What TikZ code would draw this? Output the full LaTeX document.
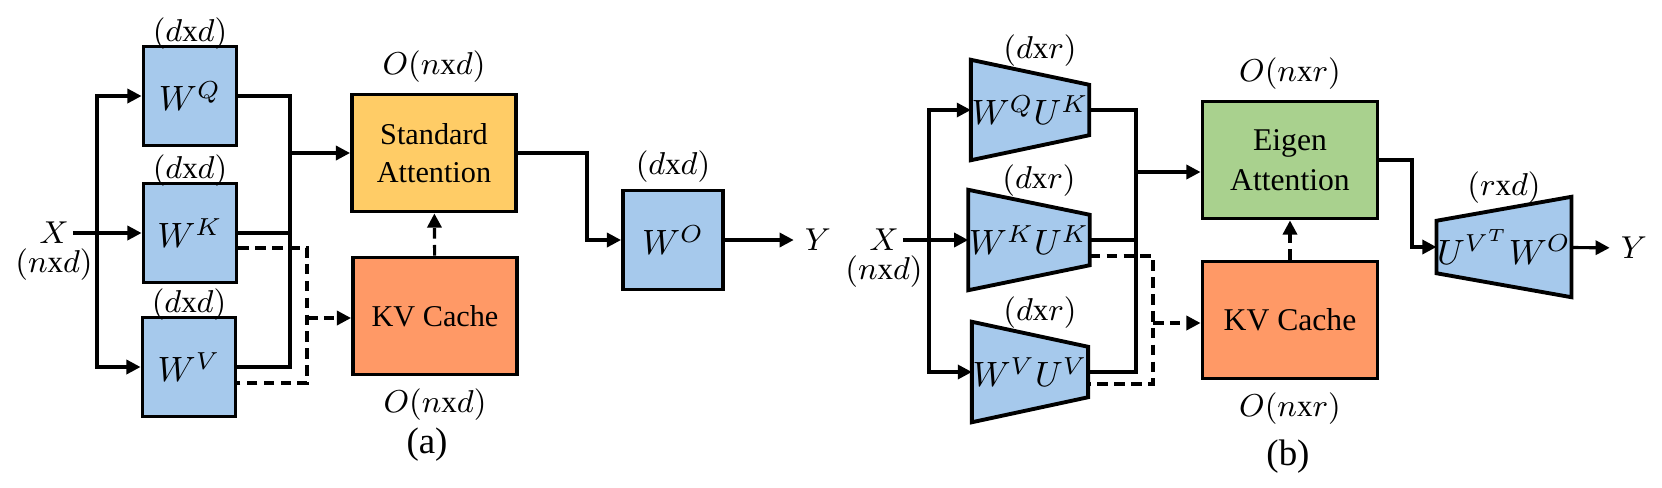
\documentclass[tikz,border=0pt]{standalone}
\usepackage{fontspec}
\setmainfont{Liberation Serif}
\usetikzlibrary{arrows.meta,positioning,calc,backgrounds}
\definecolor{wblue}{HTML}{A6C9EC}
\definecolor{attyellow}{HTML}{FFCC66}
\definecolor{cacheorange}{HTML}{FF9966}
\definecolor{eigengreen}{HTML}{A9D18E}
\tikzset{
  weight/.style   = { draw, line width=1.1pt, fill=wblue, minimum width=0.93cm, minimum height=0.99cm, inner sep=0pt, font=\fontsize{10}{12}\selectfont },
  lowrank/.style  = { minimum width=0.99cm, minimum height=0.99cm, inner sep=0pt, font=\fontsize{9.8}{11}\selectfont },
  block/.style    = { draw, line width=1.1pt, minimum width=1.64cm, minimum height=1.17cm, inner sep=0pt, align=center, font=\fontsize{8.6}{10.8}\selectfont },
  dim/.style      = { inner sep=1pt, font=\fontsize{8.8}{10}\selectfont },
  wire/.style     = { line width=0.9pt },
  arrow/.style    = { wire, -{Triangle[length=4pt,width=4pt]} },
  dashline/.style = { wire, dash pattern=on 3pt off 1.8pt },
  dasharrow/.style = { dashline, -{Triangle[length=4pt,width=4pt]} },
  trapfill/.style = { draw, line width=1.1pt, fill=wblue, line join=miter }
}

\begin{document}
\begin{tikzpicture}[x=0.01cm, y=-0.01cm]
\useasboundingbox (0,0) rectangle (1662,487);

% (a) standard attention
\node[weight] (wq) at (190,96) {$W^Q$};
\node[weight] (wk) at (190,233) {$W^K$};
\node[weight] (wv) at (189,367) {$W^V$};
\node[dim, above=-2.5pt of wq] (wqdim) {$(d\mathrm{x}d)$};
\node[dim, above=-2.5pt of wk] (wkdim) {$(d\mathrm{x}d)$};
\node[dim, above=-2.5pt of wv] (wvdim) {$(d\mathrm{x}d)$};

\node[dim] (xa) at (54,233) {$X$};
\node[dim, below=-1pt of xa] (xadim) {$(n\mathrm{x}d)$};
\coordinate (busa) at (97,233);
\draw[arrow] (xa) -- (wk);
\draw[arrow] (busa) |- (wq);
\draw[arrow] (busa) |- (wv);

\node[block, fill=attyellow] (sa) at (434,153) {Standard\\Attention};
\node[block, fill=cacheorange] (kva) at (435,316) {KV Cache};
\node[dim, above=0.06cm of sa] (sadim) {$O(n\mathrm{x}d)$};
\node[dim, below=0.08cm of kva] (kvadim) {$O(n\mathrm{x}d)$};

\coordinate (mergea) at (290,153);
\draw[wire] (wq) -| (mergea);
\draw[wire] (wv) -| (mergea);
\draw[wire] (wk) -- (wk -| mergea);
\draw[arrow] (mergea) -- (mergea -| sa.west);

\coordinate (splita) at (307,318);
\draw[dashline] ($(wk.east)+(0,15)$) -| (splita) |- ($(wv.east)+(0,16)$);
\draw[dasharrow] (splita) -- (splita -| kva.west);
\draw[dasharrow] (kva) -- (sa);

\node[weight, minimum width=1cm] (wo) at (673,240) {$W^O$};
\node[dim, above=0.02cm of wo] (wodim) {$(d\mathrm{x}d)$};
\coordinate (turna) at (587,200);
\draw[arrow] (sa.east) -| (turna) |- (wo);
\node[dim, inner sep=3pt] (ya) at (818,240) {$Y$};
\draw[arrow] (wo) -- (ya);

\node[font=\fontsize{10.5}{12}\selectfont] (capa) at (427,445) {(a)};

% (b) eigen attention
\node[lowrank] (wqu) at (1030,110) {$W^QU^K$};
\node[lowrank] (wku) at (1029,240) {$W^KU^K$};
\node[lowrank] (wvu) at (1030,372) {$W^VU^V$};
\node[lowrank, minimum width=1.11cm] (uvo) at (1504,247) {$U^{V^T}W^O$};
\begin{scope}[on background layer]
\foreach \n in {wqu,wku,wvu}
  \draw[trapfill] (\n.north west) -- ($(\n.north east)+(0,25)$) -- ($(\n.south east)+(0,-25)$) -- (\n.south west) -- cycle;
\draw[trapfill] ($(uvo.north west)+(0,24)$) -- (uvo.north east) -- (uvo.south east) -- ($(uvo.south west)+(0,-24)$) -- cycle;
\end{scope}
\node[dim, above=-3pt of wqu, xshift=0.1cm] (wqudim) {$(d\mathrm{x}r)$};
\node[dim, above=-3pt of wku, xshift=0.1cm] (wkudim) {$(d\mathrm{x}r)$};
\node[dim, above=-3pt of wvu, xshift=0.1cm] (wvudim) {$(d\mathrm{x}r)$};
\node[dim, above=-3pt of uvo] (uvodim) {$(r\mathrm{x}d)$};

\node[dim] (xb) at (884,240) {$X$};
\node[dim, below=-1pt of xb] (xbdim) {$(n\mathrm{x}d)$};
\coordinate (busb) at (929,240);
\draw[arrow] (xb) -- (wku);
\draw[arrow] (busb) |- (wqu);
\draw[arrow] (busb) |- (wvu);

\node[block, fill=eigengreen, font=\fontsize{9}{11.2}\selectfont, minimum width=1.75cm] (ea) at (1290,160) {Eigen\\Attention};
\node[block, fill=cacheorange, font=\fontsize{9}{11.2}\selectfont, minimum width=1.75cm] (kvb) at (1290,320) {KV Cache};
\node[dim, above=0.06cm of ea] (eadim) {$O(n\mathrm{x}r)$};
\node[dim, below=0.08cm of kvb] (kvbdim) {$O(n\mathrm{x}r)$};

\coordinate (mergeb) at (1136,172);
\draw[wire] (wqu) -| (mergeb);
\draw[wire] (wvu) -| (mergeb);
\draw[wire] (wku) -- (wku -| mergeb);
\draw[arrow] (mergeb) -- (mergeb -| ea.west);

\coordinate (splitb) at (1153,323);
\draw[dashline] ($(wku.east)+(0,16)$) -| (splitb) |- ($(wvu.east)+(0,12)$);
\draw[dasharrow] (splitb) -- (splitb -| kvb.west);
\draw[dasharrow] (kvb) -- (ea);

\coordinate (turnb) at (1412,200);
\draw[arrow] (ea.east) -| (turnb) |- (uvo);
\node[dim, inner sep=3pt] (yb) at (1634,248) {$Y$};
\draw[arrow] (uvo) -- (yb);

\node[font=\fontsize{10.5}{12}\selectfont] (capb) at (1288,457) {(b)};
\end{tikzpicture}
\end{document}
